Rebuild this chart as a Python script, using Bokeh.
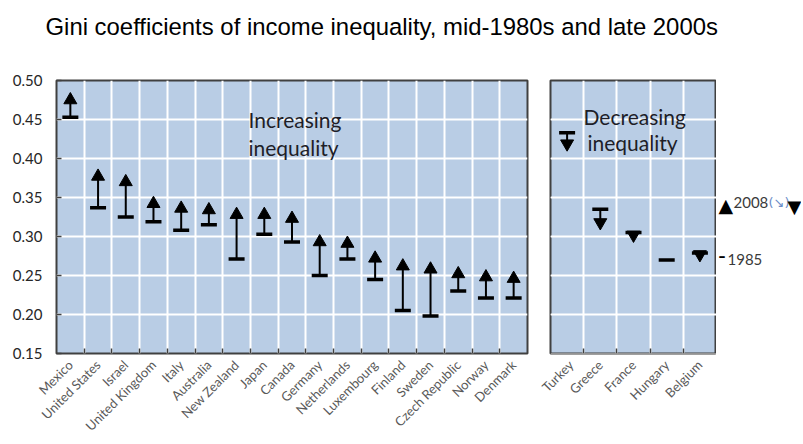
import math
from bokeh.plotting import figure
from bokeh.models import (Range1d, FactorRange, FixedTicker, Grid, Label,
                          ColumnDataSource, NumeralTickFormatter)
from bokeh.layouts import column, row
from bokeh.embed import file_html
from bokeh.resources import INLINE

title_text = "Gini coefficients of income inequality, mid-1980s and late 2000s"

inc_countries = ["Mexico", "United States", "Israel", "United Kingdom", "Italy",
                 "Australia", "New Zealand", "Japan", "Canada", "Germany",
                 "Netherlands", "Luxembourg", "Finland", "Sweden",
                 "Czech Republic", "Norway", "Denmark"]
inc_1985 = [0.453, 0.337, 0.325, 0.319, 0.308, 0.315, 0.271, 0.303, 0.293,
            0.250, 0.271, 0.245, 0.205, 0.198, 0.230, 0.221, 0.221]
inc_2008 = [0.475, 0.377, 0.370, 0.342, 0.336, 0.334, 0.328, 0.328, 0.323,
            0.293, 0.291, 0.272, 0.262, 0.258, 0.252, 0.248, 0.246]

dec_countries = ["Turkey", "Greece", "France", "Hungary", "Belgium"]
dec_1985 = [0.433, 0.335, 0.305, 0.270, 0.279]
dec_2008 = [0.419, 0.318, 0.302, float("nan"), 0.277]

y_ticks = [0.15, 0.20, 0.25, 0.30, 0.35, 0.40, 0.45, 0.50]

FRAME_BG = "#B9CDE5"
DARK = "#404040"
TXT = "#262626"
FONT = "Lato"
FIG_H = 396


def panel(factors, y85, y08, width, mbl, mbr, up, show_y):
    p = figure(x_range=FactorRange(*factors), y_range=Range1d(y_ticks[0], y_ticks[-1]),
               width=width, height=FIG_H, min_border_left=mbl, min_border_right=mbr,
               min_border_top=34, min_border_bottom=88,
               toolbar_location=None, output_backend="svg",
               y_axis_location="left" if show_y else None,
               background_fill_color=FRAME_BG, border_fill_color="white",
               outline_line_color=DARK, outline_line_width=2)
    n = len(factors)
    bounds = list(range(1, n))
    p.xgrid.ticker = FixedTicker(ticks=bounds)
    p.xgrid.grid_line_color = "white"
    p.xgrid.grid_line_width = 2
    if show_y:
        p.ygrid.ticker = FixedTicker(ticks=y_ticks)
        p.ygrid.grid_line_color = "white"
        p.ygrid.grid_line_width = 2
    else:
        p.add_layout(Grid(dimension=1, ticker=FixedTicker(ticks=y_ticks),
                          grid_line_color="white", grid_line_width=2))
    p.add_layout(Grid(dimension=0, ticker=FixedTicker(ticks=bounds),
                      cross_bounds=(y_ticks[0], y_ticks[0] + 0.0065),
                      grid_line_color=DARK, grid_line_width=1.5))

    ax = p.xaxis[0]
    ax.major_label_orientation = math.pi / 4
    ax.major_tick_line_color = None
    ax.minor_tick_line_color = None
    ax.axis_line_color = None
    ax.major_label_text_font = FONT
    ax.major_label_text_font_size = "13px"
    ax.major_label_text_color = "#595959"
    ax.major_label_standoff = 3

    if show_y:
        yax = p.yaxis[0]
        yax.ticker = FixedTicker(ticks=y_ticks)
        yax.formatter = NumeralTickFormatter(format="0.00")
        yax.major_tick_in = 5
        yax.major_tick_out = 0
        yax.major_tick_line_color = DARK
        yax.major_tick_line_width = 1.5
        yax.minor_tick_line_color = None
        yax.axis_line_color = None
        yax.major_label_standoff = 14
        yax.major_label_text_font = FONT
        yax.major_label_text_font_size = "15px"
        yax.major_label_text_color = TXT

    src = ColumnDataSource(dict(country=factors, y85=y85, y08=y08))
    p.segment(x0="country", y0="y85", x1="country", y1="y08", source=src,
              line_color="black", line_width=2)
    p.scatter(x="country", y="y85", source=src, marker="dash", size=16,
              line_color="black", line_width=3.5)
    p.scatter(x="country", y="y08", source=src,
              marker="triangle" if up else "inverted_triangle", size=13,
              fill_color="black", line_color="black")
    return p


left = panel(inc_countries, inc_1985, inc_2008, 538, 56, 11, True, True)
right = panel(dec_countries, dec_1985, dec_2008, 178, 12, 0, False, False)

ANN = "#1E1E28"
for txt, x, y in [("Increasing", 192, 234), ("inequality", 192, 206)]:
    left.add_layout(Label(x=x, y=y, x_units="screen", y_units="screen", text=txt,
                          text_font=FONT, text_font_size="21px", text_color=ANN,
                          text_baseline="alphabetic"))
for txt, x, y in [("Decreasing", 33, 237), ("inequality", 37, 211)]:
    right.add_layout(Label(x=x, y=y, x_units="screen", y_units="screen", text=txt,
                           text_font=FONT, text_font_size="21px", text_color=ANN,
                           text_baseline="alphabetic"))

# legend: its own small canvas to the right of the decreasing panel
lg = figure(width=85, height=FIG_H, x_range=Range1d(0, 1), y_range=Range1d(0, 1),
            toolbar_location=None, output_backend="svg",
            x_axis_location=None, y_axis_location=None, min_border=0,
            outline_line_color=None, border_fill_color="white",
            background_fill_color="white")
lg.xgrid.visible = False
lg.ygrid.visible = False
legend_items = [
    ("\u25B2", 2, 148.5, "DejaVu Sans", "19px", "black", "middle"),
    ("2008", 17, 151, FONT, "15px", "#3A3A3A", "alphabetic"),
    ("(\u2198)", 52, 151, "DejaVu Sans", "13px", "#6A8CC8", "alphabetic"),
    ("\u25BC", 71, 147, "DejaVu Sans", "18px", "black", "middle"),
    ("\u2013", 2, 98, "DejaVu Sans", "14px", "black", "middle"),
    ("1985", 11, 94, FONT, "15px", "#3A3A3A", "alphabetic"),
]
for txt, x, y, f, fs, c, bl in legend_items:
    lg.add_layout(Label(x=x, y=y, x_units="screen", y_units="screen", text=txt,
                        text_font=f, text_font_size=fs, text_color=c,
                        text_font_style="bold" if txt == "\u2013" else "normal",
                        text_baseline=bl))

t = figure(width=801, height=46, x_range=Range1d(0, 1), y_range=Range1d(0, 1),
           title=title_text, toolbar_location=None, output_backend="svg",
           x_axis_location=None, y_axis_location=None,
           min_border_top=39, min_border_bottom=0, min_border_left=0, min_border_right=0,
           outline_line_color=None, border_fill_color="white",
           background_fill_color="white")
t.xgrid.visible = False
t.ygrid.visible = False
t.title.text_font = "Liberation Sans"
t.title.text_font_size = "23.9px"
t.title.text_font_style = "normal"
t.title.text_color = "black"
t.title.align = "left"
t.title.offset = 45
t.title.standoff = 0

layout = column(t, row(left, right, lg))
open("out.html", "w").write(file_html(layout, INLINE))
